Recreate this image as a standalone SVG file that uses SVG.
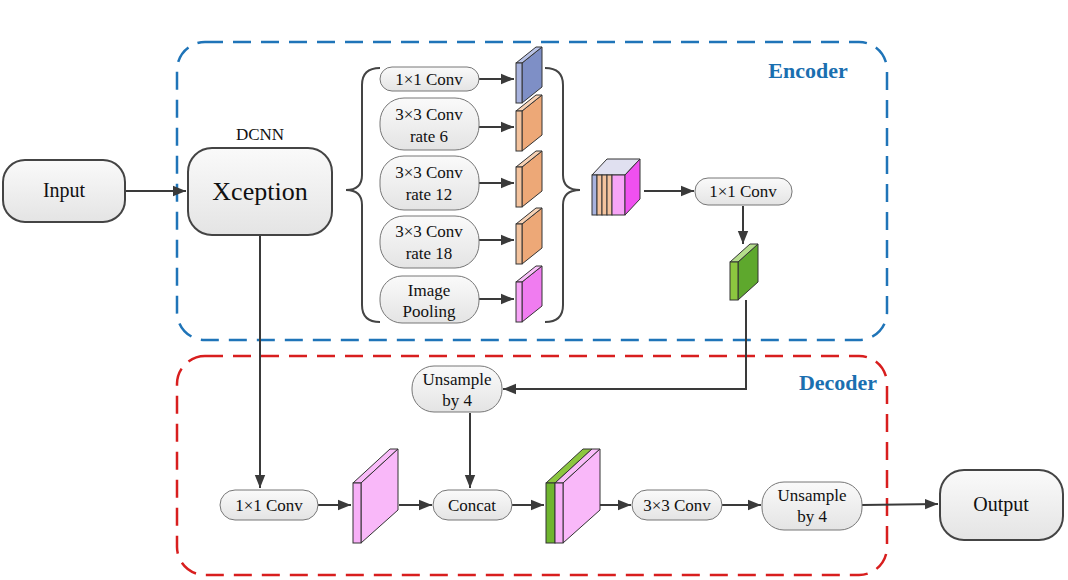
<svg xmlns="http://www.w3.org/2000/svg" width="1068" height="580" viewBox="0 0 1068 580">
<defs>
<marker id="ar" viewBox="0 0 10 10" refX="10" refY="5" markerWidth="6.5" markerHeight="6.5" orient="auto"><path d="M0,1 L10,5 L0,9 z" fill="#3a3a3a"/></marker>
<linearGradient id="pg" x1="0" y1="0" x2="0" y2="1"><stop offset="0" stop-color="#fafafa"/><stop offset="1" stop-color="#e4e4e4"/></linearGradient>
</defs>
<style>
.t{font-family:"Liberation Serif","Times New Roman",serif;font-size:17px;fill:#111;text-anchor:middle}
.pill{fill:url(#pg);stroke:#777;stroke-width:1}
.big{fill:url(#pg);stroke:#444;stroke-width:2}
.c{stroke:#3a3a3a;stroke-width:2;fill:none}
.br{stroke:#444;stroke-width:2;fill:none}
.cube{stroke:#333;stroke-width:1}
.lbl{font-family:"Liberation Serif","Times New Roman",serif;font-size:22px;font-weight:bold;fill:#1a6fb0}
</style>
<rect x="177" y="42" width="710" height="298" rx="28" fill="none" stroke="#1f74b8" stroke-width="2.5" stroke-dasharray="18,10"/>
<rect x="177" y="356" width="710" height="219" rx="28" fill="none" stroke="#d81e1e" stroke-width="2.5" stroke-dasharray="18,10"/>
<text class="lbl" x="808" y="78" text-anchor="middle">Encoder</text>
<text class="lbl" x="838" y="390" text-anchor="middle">Decoder</text>
<g id="connectors">
<path class="c" d="M126,191 H186" marker-end="url(#ar)"/>
<path class="c" d="M479,79 H514" marker-end="url(#ar)"/>
<path class="c" d="M479,127 H514" marker-end="url(#ar)"/>
<path class="c" d="M479,183 H514" marker-end="url(#ar)"/>
<path class="c" d="M479,240 H514" marker-end="url(#ar)"/>
<path class="c" d="M479,299 H514" marker-end="url(#ar)"/>
<path class="c" d="M644,191 H694" marker-end="url(#ar)"/>
<path class="c" d="M743,206 V244" marker-end="url(#ar)"/>
<path class="c" d="M746,300 V389 H503" marker-end="url(#ar)"/>
<path class="c" d="M260,236 V488" marker-end="url(#ar)"/>
<path class="c" d="M470,413 V488" marker-end="url(#ar)"/>
<path class="c" d="M318,505 H351" marker-end="url(#ar)"/>
<path class="c" d="M399,505 H432" marker-end="url(#ar)"/>
<path class="c" d="M512,505 H544" marker-end="url(#ar)"/>
<path class="c" d="M600,505 H631" marker-end="url(#ar)"/>
<path class="c" d="M722,505 H761" marker-end="url(#ar)"/>
<path class="c" d="M862,505 L938,504" marker-end="url(#ar)"/>
</g>
<g id="input"><rect class="big" x="3" y="160" width="122" height="62" rx="22"/><text class="t" x="64" y="197" style="font-size:20px">Input</text></g>
<g id="xception"><text class="t" x="260" y="140">DCNN</text><rect class="big" x="188" y="148" width="144" height="87" rx="24"/><text class="t" x="260" y="200" style="font-size:26px">Xception</text></g>
<g id="braces">
<path class="br" d="M380,68 Q362,68 362,85 V175 Q362,190 346,190 Q362,190 362,205 V305 Q362,322 380,322"/>
<path class="br" d="M545,68 Q563,68 563,85 V175 Q563,190 580,190 Q563,190 563,205 V305 Q563,322 545,322"/>
</g>
<g id="aspp1"><rect class="pill" x="380" y="67" width="99" height="24" rx="12"/><text class="t" x="429" y="85">1×1 Conv</text></g>
<g id="aspp2"><rect class="pill" x="380" y="98" width="99" height="52" rx="24"/><text class="t" x="429" y="120">3×3 Conv</text><text class="t" x="429" y="142">rate 6</text></g>
<g id="aspp3"><rect class="pill" x="380" y="156" width="99" height="54" rx="24"/><text class="t" x="429" y="178">3×3 Conv</text><text class="t" x="429" y="200">rate 12</text></g>
<g id="aspp4"><rect class="pill" x="380" y="216" width="99" height="52" rx="24"/><text class="t" x="429" y="237">3×3 Conv</text><text class="t" x="429" y="259">rate 18</text></g>
<g id="aspp5"><rect class="pill" x="380" y="276" width="99" height="47" rx="22"/><text class="t" x="429" y="296">Image</text><text class="t" x="429" y="317">Pooling</text></g>
<g id="f1"><path class="cube" fill="#7e8fc6" d="M522,103 V63 L542,47 V87 Z"/><path class="cube" fill="#b9c3e6" d="M516,63 H522 L542,47 H536 Z"/><rect class="cube" fill="#a8b3de" x="516" y="63" width="6" height="40"/></g>
<g id="f2"><path class="cube" fill="#eda877" d="M522,151 V111 L542,95 V135 Z"/><path class="cube" fill="#f7d2b5" d="M516,111 H522 L542,95 H536 Z"/><rect class="cube" fill="#f3c39e" x="516" y="111" width="6" height="40"/></g>
<g id="f3"><path class="cube" fill="#eda877" d="M522,207 V167 L542,151 V191 Z"/><path class="cube" fill="#f7d2b5" d="M516,167 H522 L542,151 H536 Z"/><rect class="cube" fill="#f3c39e" x="516" y="167" width="6" height="40"/></g>
<g id="f4"><path class="cube" fill="#eda877" d="M522,264 V224 L542,208 V248 Z"/><path class="cube" fill="#f7d2b5" d="M516,224 H522 L542,208 H536 Z"/><rect class="cube" fill="#f3c39e" x="516" y="224" width="6" height="40"/></g>
<g id="f5"><path class="cube" fill="#f07cf0" d="M522,322 V282 L542,266 V306 Z"/><path class="cube" fill="#f9c0f9" d="M516,282 H522 L542,266 H536 Z"/><rect class="cube" fill="#f7a5f7" x="516" y="282" width="6" height="40"/></g>
<g id="stack">
<path class="cube" fill="#e0e0f0" d="M592,175 L607,159 H640 L625,175 Z"/>
<rect class="cube" fill="#a8b3de" x="592" y="175" width="5" height="40"/>
<rect class="cube" fill="#f3c39e" x="597" y="175" width="5" height="40"/>
<rect class="cube" fill="#f3c39e" x="602" y="175" width="5" height="40"/>
<rect class="cube" fill="#f3c39e" x="607" y="175" width="5" height="40"/>
<rect class="cube" fill="#f7a5f7" x="612" y="175" width="13" height="40"/>
<path class="cube" fill="#f050f0" d="M625,215 V175 L640,159 V199 Z"/>
</g>
<g id="conv1"><rect class="pill" x="695" y="178" width="97" height="27" rx="13"/><text class="t" x="743" y="197">1×1 Conv</text></g>
<g id="green"><path class="cube" fill="#5ea82d" d="M738,300 V262 L758,244 V282 Z"/><path class="cube" fill="#b5dd8c" d="M730,262 H738 L758,244 H750 Z"/><rect class="cube" fill="#8cc63f" x="730" y="262" width="8" height="38"/></g>
<g id="up1"><rect class="pill" x="412" y="366" width="90" height="46" rx="22"/><text class="t" x="457" y="385">Unsample</text><text class="t" x="457" y="406">by 4</text></g>
<g id="conv2"><rect class="pill" x="220" y="490" width="98" height="30" rx="15"/><text class="t" x="269" y="511">1×1 Conv</text></g>
<g id="pink">
<path class="cube" fill="#f9bcf9" d="M353,483 L390,449 H398 L361,483 Z"/>
<path class="cube" fill="#f9b8f9" d="M361,543 V483 L398,449 V510 Z"/>
<rect class="cube" fill="#f7b0f7" x="353" y="483" width="8" height="60"/>
</g>
<g id="concat"><rect class="pill" x="433" y="490" width="79" height="30" rx="15"/><text class="t" x="472" y="511">Concat</text></g>
<g id="gp">
<path class="cube" fill="#8cc63f" d="M546,483 L583,449 H592 L555,483 Z"/>
<path class="cube" fill="#f9bcf9" d="M555,483 L592,449 H600 L563,483 Z"/>
<path class="cube" fill="#f9b8f9" d="M563,543 V483 L600,449 V510 Z"/>
<rect class="cube" fill="#6fb52f" x="546" y="483" width="9" height="60"/>
<rect class="cube" fill="#f7b0f7" x="555" y="483" width="8" height="60"/>
</g>
<g id="conv3"><rect class="pill" x="632" y="490" width="90" height="30" rx="15"/><text class="t" x="677" y="511">3×3 Conv</text></g>
<g id="up2"><rect class="pill" x="762" y="482" width="100" height="48" rx="22"/><text class="t" x="812" y="501">Unsample</text><text class="t" x="812" y="522">by 4</text></g>
<g id="output"><rect class="big" x="940" y="470" width="123" height="70" rx="24"/><text class="t" x="1001" y="511" style="font-size:20px">Output</text></g>
</svg>
